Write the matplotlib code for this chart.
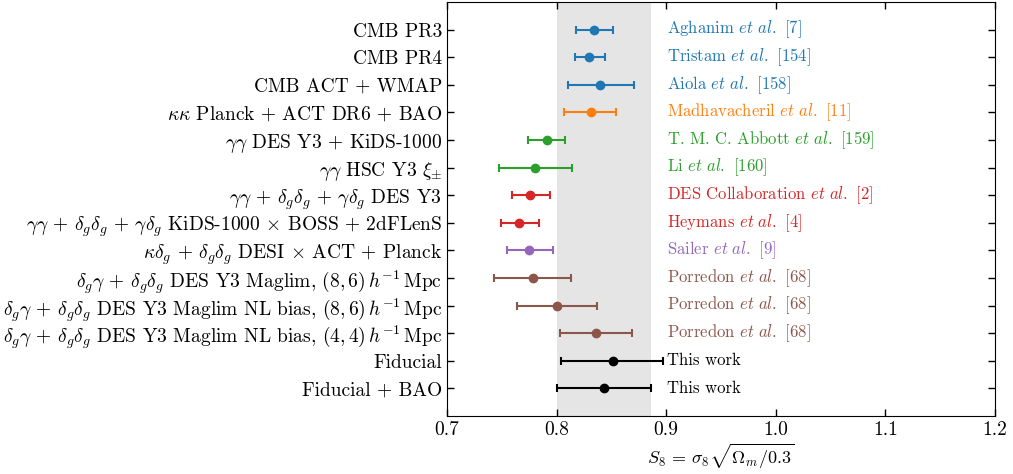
import matplotlib
matplotlib.use("Agg")
import matplotlib.pyplot as plt
import numpy as np

plt.rcParams['font.family'] = 'serif'
plt.rcParams['font.serif'] = ['cmr10']
plt.rcParams['mathtext.fontset'] = 'cm'
plt.rcParams['axes.formatter.use_mathtext'] = True

# Data
labels = [
    'CMB PR3',
    'CMB PR4',
    'CMB ACT + WMAP',
    r'$\kappa\kappa$ Planck + ACT DR6 + BAO',
    r'$\gamma\gamma$ DES Y3 + KiDS-1000',
    r'$\gamma\gamma$ HSC Y3 $\xi_{\pm}$',
    r'$\gamma\gamma$ + $\delta_g\delta_g$ + $\gamma\delta_g$ DES Y3',
    r'$\gamma\gamma$ + $\delta_g\delta_g$ + $\gamma\delta_g$ KiDS-1000 $\times$ BOSS + 2dFLenS',
    r'$\kappa\delta_g$ + $\delta_g\delta_g$ DESI $\times$ ACT + Planck',
    r'$\delta_g\gamma$ + $\delta_g\delta_g$ DES Y3 Maglim, $(8, 6)\,h^{-1}\,$Mpc',
    r'$\delta_g\gamma$ + $\delta_g\delta_g$ DES Y3 Maglim NL bias, $(8, 6)\,h^{-1}\,$Mpc',
    r'$\delta_g\gamma$ + $\delta_g\delta_g$ DES Y3 Maglim NL bias, $(4, 4)\,h^{-1}\,$Mpc',
    'Fiducial',
    'Fiducial + BAO',
]
refs = [
    r'Aghanim $\mathit{et\ al.}$ [7]',
    r'Tristam $\mathit{et\ al.}$ [154]',
    r'Aiola $\mathit{et\ al.}$ [158]',
    r'Madhavacheril $\mathit{et\ al.}$ [11]',
    r'T. M. C. Abbott $\mathit{et\ al.}$ [159]',
    r'Li $\mathit{et\ al.}$ [160]',
    r'DES Collaboration $\mathit{et\ al.}$ [2]',
    r'Heymans $\mathit{et\ al.}$ [4]',
    r'Sailer $\mathit{et\ al.}$ [9]',
    r'Porredon $\mathit{et\ al.}$ [68]',
    r'Porredon $\mathit{et\ al.}$ [68]',
    r'Porredon $\mathit{et\ al.}$ [68]',
    'This work',
    'This work',
]
s8_mid = [0.834, 0.830, 0.840, 0.831, 0.791, 0.780, 0.776, 0.766, 0.775, 0.778, 0.800, 0.836, 0.851, 0.843]
s8_low = [0.818, 0.8165, 0.810, 0.807, 0.7735, 0.7475, 0.759, 0.749, 0.7545, 0.743, 0.764, 0.803, 0.804, 0.800]
s8_high = [0.851, 0.844, 0.871, 0.854, 0.808, 0.814, 0.7935, 0.784, 0.7965, 0.813, 0.8365, 0.869, 0.897, 0.886]
colors = ['C0', 'C0', 'C0', 'C1', 'C2', 'C2', 'C3', 'C3', 'C4', 'C5', 'C5', 'C5', 'k', 'k']

fig, ax = plt.subplots(figsize=(10.13, 4.74), dpi=100)
fig.subplots_adjust(left=0.4413, right=0.9822, top=0.9958, bottom=0.1224)

# band from the last (Fiducial + BAO) result
ax.axvspan(s8_low[-1], s8_high[-1], color='#e5e5e5', zorder=0, lw=0)

y = np.arange(len(labels))
for i in range(len(labels)):
    err = [[s8_mid[i] - s8_low[i]], [s8_high[i] - s8_mid[i]]]
    ax.errorbar(s8_mid[i], y[i], xerr=err, fmt='o', color=colors[i],
                ms=6, capsize=2.7, elinewidth=1.5, capthick=1.5)
    ax.text(0.901, y[i], refs[i], color=colors[i], va='center', ha='left', fontsize=12)

ax.set_yticks(y)
ax.set_yticklabels(labels, fontsize=14)
ax.set_ylim(len(labels), -1)
ax.set_xlim(0.7, 1.2)
ax.set_xticks([0.7, 0.8, 0.9, 1.0, 1.1, 1.2])
ax.set_xticklabels(['0.7', '0.8', '0.9', '1.0', '1.1', '1.2'], fontsize=14)
ax.set_xlabel(r'$S_8$ = $\sigma_8\sqrt{\Omega_m/0.3}$', fontsize=13, labelpad=2)
ax.tick_params(direction='in', top=True, right=True, length=5, width=1)

plt.savefig('out.png', dpi=100)
